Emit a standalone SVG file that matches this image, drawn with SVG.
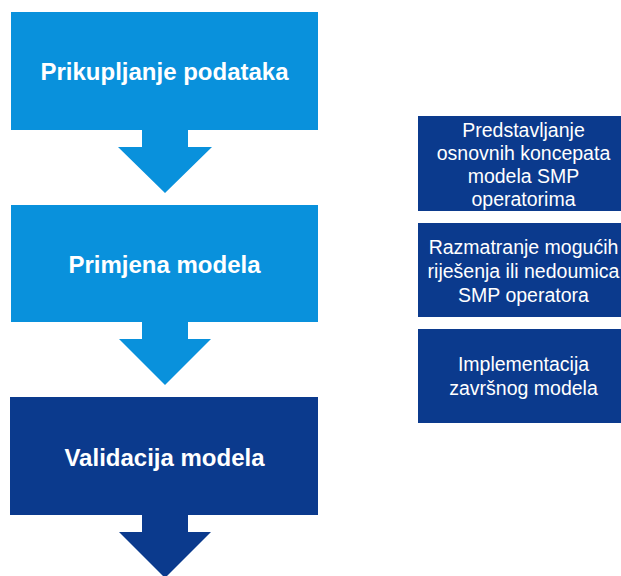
<svg xmlns="http://www.w3.org/2000/svg" width="621" height="576" viewBox="0 0 621 576">
<style>
.light{fill:#0991dc}
.dark{fill:#0b3a8d}
.big{font-family:"Liberation Sans",Arial,sans-serif;font-weight:bold;font-size:24px;fill:#fff;text-anchor:middle}
.small{font-family:"Liberation Sans",Arial,sans-serif;font-size:19.5px;fill:#fff;text-anchor:middle}
</style>
<rect width="621" height="576" fill="#fff"/>
<g id="step1">
<path class="light" d="M11 12H318V130H188V147H212L165 193L118 147H142V130H11Z"/>
<text class="big" x="164.5" y="80">Prikupljanje podataka</text>
</g>
<g id="step2">
<path class="light" d="M11 205H318V322H188V339H211L165 385L119 339H142V322H11Z"/>
<text class="big" x="164.5" y="273">Primjena modela</text>
</g>
<g id="step3">
<path class="dark" d="M10 397H318V515H188V532H211L165 578L119 532H142V515H10Z"/>
<text class="big" x="164.5" y="466">Validacija modela</text>
</g>
<g id="box1">
<rect class="dark" x="418" y="116" width="215" height="95"/>
<text class="small" x="523.5" y="137">Predstavljanje</text>
<text class="small" x="523.5" y="160">osnovnih koncepata</text>
<text class="small" x="523.5" y="183">modela SMP</text>
<text class="small" x="523.5" y="206">operatorima</text>
</g>
<g id="box2">
<rect class="dark" x="418" y="223" width="215" height="94"/>
<text class="small" x="523.5" y="254">Razmatranje mogućih</text>
<text class="small" x="523.5" y="278">riješenja ili nedoumica</text>
<text class="small" x="523.5" y="302">SMP operatora</text>
</g>
<g id="box3">
<rect class="dark" x="418" y="329" width="215" height="94"/>
<text class="small" x="523.5" y="371">Implementacija</text>
<text class="small" x="523.5" y="395">završnog modela</text>
</g>
<g id="connectors"></g>
</svg>
